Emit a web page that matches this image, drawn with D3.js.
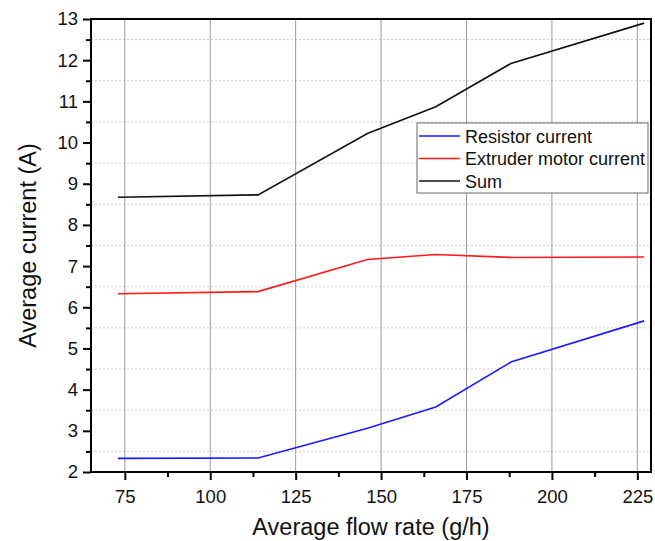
<!DOCTYPE html>
<html>
<head>
<meta charset="utf-8">
<script src="https://cdn.jsdelivr.net/npm/d3@7"></script>
<style>
  body { margin: 0; background: #fff; }
  svg { font-family: Arial, "Liberation Sans", sans-serif; }
</style>
</head>
<body>
<svg id="chart" width="655" height="541"></svg>
<script>
// flow rate (g/h)
const flowRates = [73, 114, 146, 166, 188, 227];
const resistorCurrent = [2.33, 2.34, 3.06, 3.58, 4.67, 5.67];
const motorCurrent = [6.33, 6.38, 7.16, 7.28, 7.21, 7.22];
const sumCurrent = [8.67, 8.73, 10.22, 10.87, 11.92, 12.9];

const xTicks = [75, 100, 125, 150, 175, 200, 225];
const yTicks = [2, 3, 4, 5, 6, 7, 8, 9, 10, 11, 12, 13];

const series = [
	{ name: "Resistor current", values: resistorCurrent, color: "#1a1aff" },
	{ name: "Extruder motor current", values: motorCurrent, color: "#ff1a1a" },
	{ name: "Sum", values: sumCurrent, color: "#111" }
];

const margin = { top: 19, right: 4, bottom: 69, left: 91 };
const width = 655 - margin.left - margin.right;
const height = 541 - margin.top - margin.bottom;

const svg = d3.select("#chart");
const g = svg.append("g").attr("transform", `translate(${margin.left},${margin.top})`);

const x = d3.scaleLinear().domain([65.1, 229]).range([0, width]);
const y = d3.scaleLinear().domain([2, 13]).range([height, 0]);

// horizontal dotted grid at half values
const yMinor = d3.range(2.5, 13, 1);
g.selectAll(".hgrid").data(yMinor).enter().append("line")
	.attr("class", "hgrid")
	.attr("x1", 0).attr("x2", width)
	.attr("y1", d => y(d)).attr("y2", d => y(d))
	.attr("stroke", "#cfcfcf").attr("stroke-width", 1)
	.attr("stroke-dasharray", "2,2");

// vertical grid at major x ticks
g.selectAll(".vgrid").data(xTicks).enter().append("line")
	.attr("class", "vgrid")
	.attr("x1", d => x(d)).attr("x2", d => x(d))
	.attr("y1", 0).attr("y2", height)
	.attr("stroke", "#999").attr("stroke-width", 1);

// series lines
const line = d3.line()
	.x((d, i) => x(flowRates[i]))
	.y(d => y(d));

series.forEach(s => {
	g.append("path")
		.datum(s.values)
		.attr("d", line)
		.attr("fill", "none")
		.attr("stroke", s.color)
		.attr("stroke-width", 1.6);
});

// axes
const xAxis = g.append("g").attr("transform", `translate(0,${height})`)
	.call(d3.axisBottom(x).tickValues(xTicks).tickSize(8).tickPadding(7));
const xMinorAxis = g.append("g").attr("transform", `translate(0,${height})`)
	.call(d3.axisBottom(x).tickValues(d3.range(87.5, 229, 25)).tickSize(5).tickFormat(""));
const yAxis = g.append("g")
	.call(d3.axisLeft(y).tickValues(yTicks).tickSize(8).tickPadding(5));
const yMinorAxis = g.append("g")
	.call(d3.axisLeft(y).tickValues(yMinor).tickSize(5).tickFormat(""));

[xAxis, xMinorAxis, yAxis, yMinorAxis].forEach(a => {
	a.select(".domain").remove();
	a.selectAll(".tick line").attr("stroke", "#000").attr("stroke-width", 2);
	a.selectAll(".tick text").attr("fill", "#111").style("font-size", "18.5px");
});
xAxis.selectAll(".tick text").attr("dy", "0.85em");

// frame
g.append("rect")
	.attr("x", 0).attr("y", 0)
	.attr("width", width).attr("height", height)
	.attr("fill", "none").attr("stroke", "#000").attr("stroke-width", 2);

// axis titles
svg.append("text")
	.attr("x", margin.left + width / 2)
	.attr("y", 535)
	.attr("text-anchor", "middle")
	.style("font-size", "23.5px")
	.attr("fill", "#111")
	.text("Average flow rate (g/h)");

svg.append("text")
	.attr("transform", `translate(36,${margin.top + height / 2}) rotate(-90)`)
	.attr("text-anchor", "middle")
	.style("font-size", "23.5px")
	.attr("fill", "#111")
	.text("Average current (A)");

// legend
const legend = svg.append("g").attr("transform", "translate(417,123)");
legend.append("rect")
	.attr("width", 231).attr("height", 70)
	.attr("fill", "#fff").attr("stroke", "#666").attr("stroke-width", 1);
series.forEach((s, i) => {
	const ly = 13 + i * 22.5;
	legend.append("line")
		.attr("x1", 2).attr("x2", 43)
		.attr("y1", ly).attr("y2", ly)
		.attr("stroke", s.color).attr("stroke-width", 1.6);
	legend.append("text")
		.attr("x", 48).attr("y", ly + 6.5)
		.style("font-size", "18px")
		.attr("fill", "#111")
		.text(s.name);
});
</script>
</body>
</html>
